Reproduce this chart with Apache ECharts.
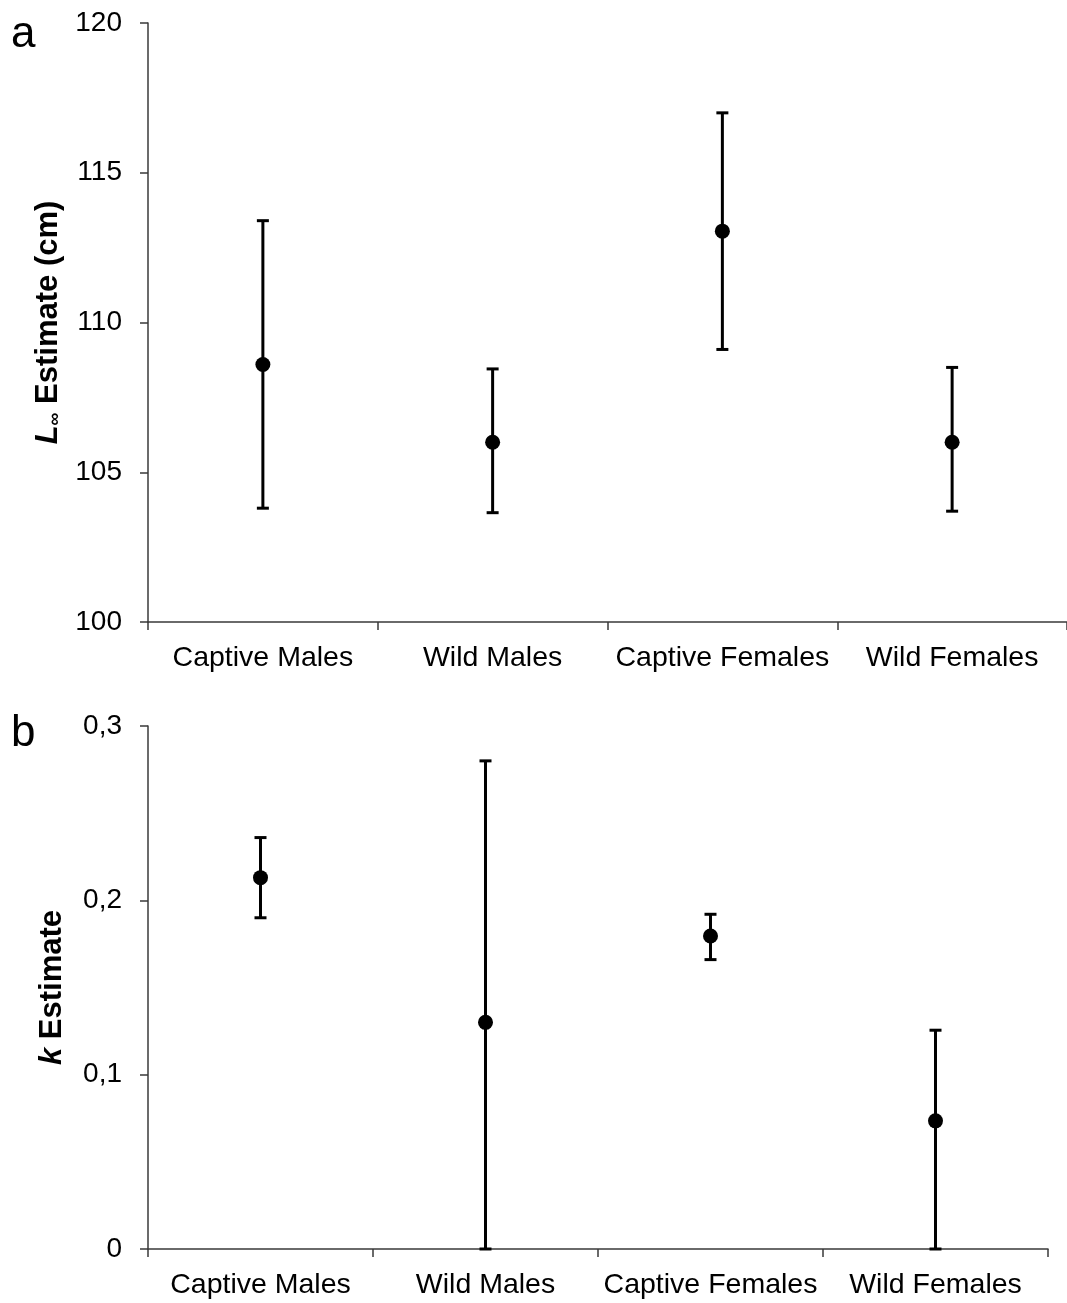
<!DOCTYPE html>
<html>
<head>
<meta charset="utf-8">
<script src="https://cdn.jsdelivr.net/npm/echarts@6/dist/echarts.min.js"></script>
<style>
html,body{margin:0;padding:0;background:#fff;}
#chart{width:1067px;height:1303px;}
</style>
</head>
<body>
<div id="chart"></div>
<script>
const categories = ['Captive Males', 'Wild Males', 'Captive Females', 'Wild Females'];
// Panel a: L-infinity estimate (cm)
const linfMean = [108.6, 106.0, 113.05, 106.0];
const linfLow  = [103.8, 103.65, 109.1, 103.7];
const linfHigh = [113.4, 108.45, 117.0, 108.5];
// Panel b: k estimate
const kMean = [0.213, 0.130, 0.1795, 0.0735];
const kLow  = [0.190, 0.0, 0.166, 0.0];
const kHigh = [0.236, 0.280, 0.192, 0.1255];

const FONT = '"Liberation Sans", Arial, sans-serif';
const AX = '#3a3a3a';

function errorSeries(xIdx, yIdx, lows, highs) {
  return {
    type: 'custom',
    xAxisIndex: xIdx, yAxisIndex: yIdx,
    data: categories.map((c, i) => [i, lows[i], highs[i]]),
    renderItem: function (params, api) {
      const x = api.value(0);
      const lo = api.coord([x, api.value(1)]);
      const hi = api.coord([x, api.value(2)]);
      const hw = 6;
      const st = { stroke: '#000', lineWidth: 3 };
      return {
        type: 'group',
        children: [
          { type: 'line', shape: { x1: lo[0], y1: lo[1], x2: hi[0], y2: hi[1] }, style: st },
          { type: 'line', shape: { x1: lo[0] - hw, y1: lo[1], x2: lo[0] + hw, y2: lo[1] }, style: st },
          { type: 'line', shape: { x1: hi[0] - hw, y1: hi[1], x2: hi[0] + hw, y2: hi[1] }, style: st }
        ]
      };
    },
    z: 2,
    silent: true
  };
}

function meanSeries(xIdx, yIdx, means) {
  return {
    type: 'scatter',
    xAxisIndex: xIdx, yAxisIndex: yIdx,
    data: means.map((v, i) => [i, v]),
    symbol: 'circle',
    symbolSize: 15,
    itemStyle: { color: '#000', opacity: 1 },
    z: 3,
    silent: true
  };
}

function xAxisDef(gridIndex) {
  return {
    type: 'category', gridIndex: gridIndex, data: categories,
    boundaryGap: true,
    axisLine: { lineStyle: { color: AX, width: 1.5 } },
    axisTick: { show: true, interval: 0, length: 8, inside: false, lineStyle: { color: AX, width: 1.5 } },
    axisLabel: { interval: 0, color: '#000', fontSize: 28.5, fontFamily: FONT, margin: 22 },
    splitLine: { show: false }
  };
}

const chart = echarts.init(document.getElementById('chart'), null, { renderer: 'canvas' });
chart.setOption({
  animation: false,
  backgroundColor: '#fff',
  grid: [
    { left: 148, top: 23, width: 925, height: 599 },
    { left: 148, top: 726, width: 900, height: 523 }
  ],
  xAxis: [xAxisDef(0), xAxisDef(1)],
  yAxis: [
    {
      type: 'value', gridIndex: 0, min: 100, max: 120, interval: 5,
      axisLine: { show: true, lineStyle: { color: AX, width: 1.5 } },
      axisTick: { show: true, length: 8, lineStyle: { color: AX, width: 1.5 } },
      axisLabel: { color: '#000', fontSize: 28, fontFamily: FONT, margin: 26 },
      splitLine: { show: false },
      name: '{i|L}{s|∞} Estimate (cm)',
      nameLocation: 'middle', nameGap: 82, nameRotate: 90,
      nameTextStyle: {
        color: '#000', fontSize: 31, fontWeight: 'bold', fontFamily: FONT,
        rich: {
          i: { fontStyle: 'italic', fontWeight: 'bold', fontSize: 31, fontFamily: FONT, color: '#000' },
          s: { fontWeight: 'bold', fontSize: 18, fontFamily: FONT, color: '#000', verticalAlign: 'bottom', padding: [14, 0, 0, 0] }
        }
      }
    },
    {
      type: 'value', gridIndex: 1, min: 0, max: 0.3, interval: 0.1,
      axisLine: { show: true, lineStyle: { color: AX, width: 1.5 } },
      axisTick: { show: true, length: 8, lineStyle: { color: AX, width: 1.5 } },
      axisLabel: {
        color: '#000', fontSize: 28, fontFamily: FONT, margin: 26,
        formatter: function (v) { return (Math.round(v * 10) / 10).toString().replace('.', ','); }
      },
      splitLine: { show: false },
      name: '{i|k} Estimate',
      nameLocation: 'middle', nameGap: 80, nameRotate: 90,
      nameTextStyle: {
        color: '#000', fontSize: 31, fontWeight: 'bold', fontFamily: FONT,
        rich: {
          i: { fontStyle: 'italic', fontWeight: 'bold', fontSize: 31, fontFamily: FONT, color: '#000' }
        }
      }
    }
  ],
  graphic: [
    { type: 'text', left: 11, top: 13, style: { text: 'a', fontSize: 44, fontFamily: FONT, fill: '#000' } },
    { type: 'text', left: 11, top: 712, style: { text: 'b', fontSize: 44, fontFamily: FONT, fill: '#000' } }
  ],
  series: [
    errorSeries(0, 0, linfLow, linfHigh),
    meanSeries(0, 0, linfMean),
    errorSeries(1, 1, kLow, kHigh),
    meanSeries(1, 1, kMean)
  ]
});
</script>
</body>
</html>
